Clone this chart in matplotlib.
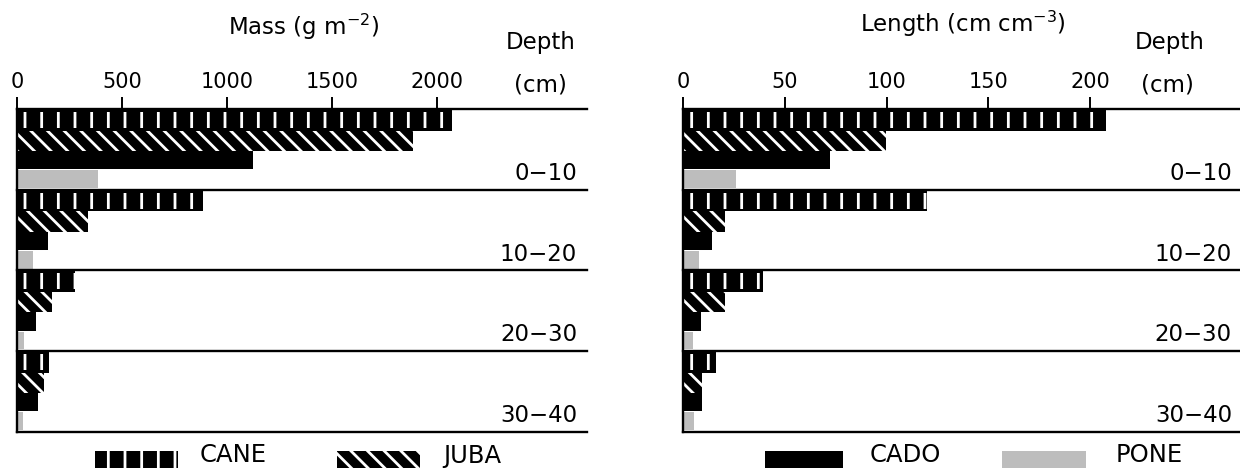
import matplotlib
matplotlib.use("Agg")
import matplotlib.pyplot as plt
from matplotlib.patches import Rectangle

# ---- data -------------------------------------------------------------
depths = ["0\u221210", "10\u221220", "20\u221230", "30\u221240"]

mass_cane = [2075, 886, 275, 151]
mass_juba = [1887, 339, 164, 129]
mass_cado = [1125, 148, 88, 100]
mass_pone = [386, 76, 32, 26]

len_cane = [208, 120, 39.4, 15.9]
len_juba = [99.5, 20.5, 20.5, 9.3]
len_cado = [72, 14, 8.7, 9.3]
len_pone = [26, 7.9, 4.6, 5.4]

mass_ticks = [0, 500, 1000, 1500, 2000]
len_ticks = [0, 50, 100, 150, 200]

series_names = ["CANE", "JUBA", "CADO", "PONE"]

# ---- figure ------------------------------------------------------------
plt.rcParams["font.family"] = ["DejaVu Sans"]
plt.rcParams["hatch.linewidth"] = 2.0

W, H = 1240, 468
fig = plt.figure(figsize=(W / 100, H / 100), dpi=100)

ax_mass = fig.add_axes([17.3 / W, 36.5 / H, 569.7 / W, 322.5 / H])
ax_len = fig.add_axes([683.3 / W, 36.5 / H, 556.7 / W, 322.5 / H])

# bar layout within one depth group (fractions of the group height)
tops = [0.0, 0.27, 0.52, 0.76]
heights = [0.27, 0.25, 0.23, 0.22]

DIAG = "\\\\"


def panel(ax, cane, juba, cado, pone, xmax, ticks, label_x):
    ax.set_xlim(0, xmax)
    ax.set_ylim(len(depths), 0)
    idx = list(range(len(depths)))

    # CANE: black with white vertical stripes (inset)
    ax.barh([i + tops[0] for i in idx], cane, height=heights[0], align="edge",
            color="black", linewidth=0, zorder=1)
    ax.barh([i + tops[0] + 0.04 for i in idx], cane, height=heights[0] - 0.075,
            align="edge", facecolor="none", edgecolor="white", hatch="|",
            linewidth=0, zorder=1.5)
    # JUBA: black with white diagonal stripes
    ax.barh([i + tops[1] for i in idx], juba, height=heights[1], align="edge",
            facecolor="black", edgecolor="white", hatch=DIAG, linewidth=0, zorder=1)
    # CADO: solid black
    ax.barh([i + tops[2] for i in idx], cado, height=heights[2], align="edge",
            color="black", linewidth=0, zorder=1)
    # PONE: light stipple gray
    ax.barh([i + tops[3] for i in idx], pone, height=heights[3], align="edge",
            color="#bdbdbd", linewidth=0, zorder=1)

    for k in range(len(depths) + 1):
        ax.axhline(k, color="black", lw=1.7, zorder=3, clip_on=False)

    for s in ["top", "right", "bottom"]:
        ax.spines[s].set_visible(False)
    ax.spines["left"].set_linewidth(1.7)
    ax.spines["left"].set_zorder(4)

    ax.set_yticks([])
    ax.set_xticks(ticks)
    ax.set_xticklabels([str(t) for t in ticks])
    ax.xaxis.set_ticks_position("top")
    ax.xaxis.set_label_position("top")
    ax.tick_params(axis="x", direction="out", length=8.6, width=1.4, pad=3.5,
                   labelsize=15, bottom=False, labelbottom=False,
                   top=True, labeltop=True)

    tr = ax.get_yaxis_transform()
    for i, d in enumerate(depths):
        ax.text(label_x, i + 0.88, d, transform=tr, ha="right", va="baseline",
                fontsize=16.5)


panel(ax_mass, mass_cane, mass_juba, mass_cado, mass_pone, 2717, mass_ticks, 0.9825)
panel(ax_len, len_cane, len_juba, len_cado, len_pone, 273.8, len_ticks, 0.9856)

# ---- titles / headers ---------------------------------------------------
def ftext(x, y, s, **kw):
    fig.text(x / W, 1 - y / H, s, **kw)

ftext(304, 35, "Mass (g m$^{-2}$)", ha="center", va="baseline", fontsize=16.5)
ftext(963, 32, "Length (cm cm$^{-3}$)", ha="center", va="baseline", fontsize=16.5)
ftext(541, 49, "Depth", ha="center", va="baseline", fontsize=16.5)
ftext(540, 92, "(cm)", ha="center", va="baseline", fontsize=16.5)
ftext(1170, 49, "Depth", ha="center", va="baseline", fontsize=16.5)
ftext(1167, 92, "(cm)", ha="center", va="baseline", fontsize=16.5)

# ---- legend ---------------------------------------------------------------
legend_styles = [
    dict(facecolor="black", edgecolor="white", hatch="|"),
    dict(facecolor="black", edgecolor="white", hatch=DIAG),
    dict(facecolor="black", edgecolor="black"),
    dict(facecolor="#bdbdbd", edgecolor="#bdbdbd"),
]
legend_patch_x = [(95, 178), (337, 420), (765, 843), (1002, 1086)]
legend_text_x = [200, 443, 870, 1116]
for name, st, (x0, x1), tx in zip(series_names, legend_styles, legend_patch_x, legend_text_x):
    r = Rectangle((x0 / W, -0.02), (x1 - x0) / W, 0.02 + (H - 451) / H,
                  transform=fig.transFigure, linewidth=0, **st)
    fig.add_artist(r)
    ftext(tx, H - 0.5, name, ha="left", va="bottom", fontsize=17.5)

fig.savefig("out.png", dpi=100)
